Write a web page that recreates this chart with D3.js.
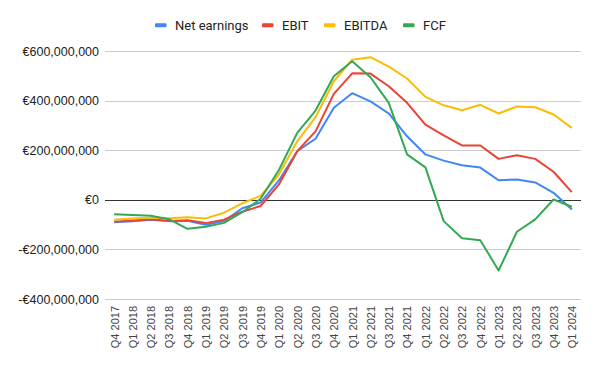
<!DOCTYPE html>
<html>
<head>
<meta charset="utf-8">
<script src="https://cdn.jsdelivr.net/npm/d3@7"></script>
<style>
  body { margin: 0; background: #fff; }
  svg { display: block; }
</style>
</head>
<body>
<div id="chart"></div>
<script>
// quarters on the x axis
const quarters = ["Q4 2017",
  "Q1 2018", "Q2 2018", "Q3 2018", "Q4 2018",
  "Q1 2019", "Q2 2019", "Q3 2019", "Q4 2019",
  "Q1 2020", "Q2 2020", "Q3 2020", "Q4 2020",
  "Q1 2021", "Q2 2021", "Q3 2021", "Q4 2021",
  "Q1 2022", "Q2 2022", "Q3 2022", "Q4 2022",
  "Q1 2023", "Q2 2023", "Q3 2023", "Q4 2023",
  "Q1 2024"];

// values in millions of euro
const netEarnings = [-91, -87, -80, -86, -85, -101, -86, -34, -11, 78, 196, 246, 371, 430, 397, 348, 256, 183, 158, 139, 130, 79, 82, 70, 28, -39];
const ebit = [-88, -83, -78, -85, -82, -94, -80, -48, -25, 62, 196, 276, 427, 510, 509, 458, 391, 303, 260, 219, 219, 165, 180, 165, 113, 31];
const ebitda = [-80, -75, -72, -74, -70, -75, -52, -14, 16, 102, 236, 333, 478, 565, 575, 537, 489, 415, 381, 361, 383, 348, 376, 373, 344, 290];
const fcf = [-58, -61, -64, -78, -117, -109, -93, -50, 4, 120, 270, 360, 498, 559, 494, 391, 183, 131, -86, -155, -163, -285, -129, -79, 1, -28];

const yTicks = [-400, -200, 0, 200, 400, 600];

const seriesNames = ["Net earnings", "EBIT", "EBITDA", "FCF"];
const seriesColors = ["#4285F4", "#EA4335", "#FBBC04", "#34A853"];
const seriesValues = [netEarnings, ebit, ebitda, fcf];

const width = 600, height = 371;
const margin = {top: 51, right: 19, bottom: 72, left: 105};
const innerW = width - margin.left - margin.right;
const innerH = height - margin.top - margin.bottom;

const svg = d3.select("#chart").append("svg")
    .attr("width", width)
    .attr("height", height);

const x = d3.scalePoint()
    .domain(quarters)
    .range([0, innerW])
    .padding(0.5);

const y = d3.scaleLinear()
    .domain([-400, 600])
    .range([innerH, 0]);

const g = svg.append("g")
    .attr("transform", "translate(" + margin.left + "," + margin.top + ")");

// grid lines
g.selectAll("line.grid")
    .data(yTicks)
    .enter()
    .append("line")
    .attr("class", "grid")
    .attr("x1", 0)
    .attr("x2", innerW)
    .attr("y1", d => Math.round(y(d)) + 0.5)
    .attr("y2", d => Math.round(y(d)) + 0.5)
    .attr("stroke", d => d === 0 ? "#333" : "#ccc")
    .attr("stroke-width", 1);

// y axis labels
const fmt = d3.format(",");
const yAxis = d3.axisLeft(y)
    .tickValues(yTicks)
    .tickSize(0)
    .tickPadding(6)
    .tickFormat(d => (d < 0 ? "-" : "") + "\u20AC" + fmt(Math.abs(d) * 1e6));

g.append("g")
    .attr("class", "y-axis")
    .call(yAxis)
    .call(s => s.select(".domain").remove())
    .selectAll("text")
    .attr("font-family", "Liberation Sans, Arial, sans-serif")
    .attr("font-size", "12.5px")
    .attr("fill", "#222");

// x axis labels, rotated
const xAxis = d3.axisBottom(x).tickSize(0).tickPadding(0);
g.append("g")
    .attr("class", "x-axis")
    .attr("transform", "translate(0," + innerH + ")")
    .call(xAxis)
    .call(s => s.select(".domain").remove())
    .selectAll("text")
    .attr("font-family", "Liberation Sans, Arial, sans-serif")
    .attr("font-size", "11px")
    .attr("fill", "#444")
    .attr("text-anchor", "end")
    .attr("dy", "0.35em")
    .attr("transform", "translate(0,7) rotate(-90)");

// lines
const line = d3.line()
    .x((d, i) => x(quarters[i]))
    .y(d => y(d));

g.selectAll("path.series")
    .data(seriesValues)
    .enter()
    .append("path")
    .attr("class", "series")
    .attr("fill", "none")
    .attr("stroke", (d, i) => seriesColors[i])
    .attr("stroke-width", 2)
    .attr("stroke-linejoin", "round")
    .attr("d", line);

// legend
const legendPos = [155, 262, 324, 403];
const legend = svg.append("g").attr("class", "legend");
const item = legend.selectAll("g")
    .data(seriesNames)
    .enter()
    .append("g")
    .attr("transform", (d, i) => "translate(" + legendPos[i] + ",25.3)");

item.append("rect")
    .attr("x", 0)
    .attr("y", -2)
    .attr("width", 11.5)
    .attr("height", 4)
    .attr("rx", 1)
    .attr("fill", (d, i) => seriesColors[i]);

item.append("text")
    .attr("x", 20)
    .attr("y", 0)
    .attr("dy", "0.35em")
    .attr("font-family", "Roboto, sans-serif")
    .attr("font-size", "13px")
    .attr("fill", "#222")
    .text(d => d);
</script>
</body>
</html>
